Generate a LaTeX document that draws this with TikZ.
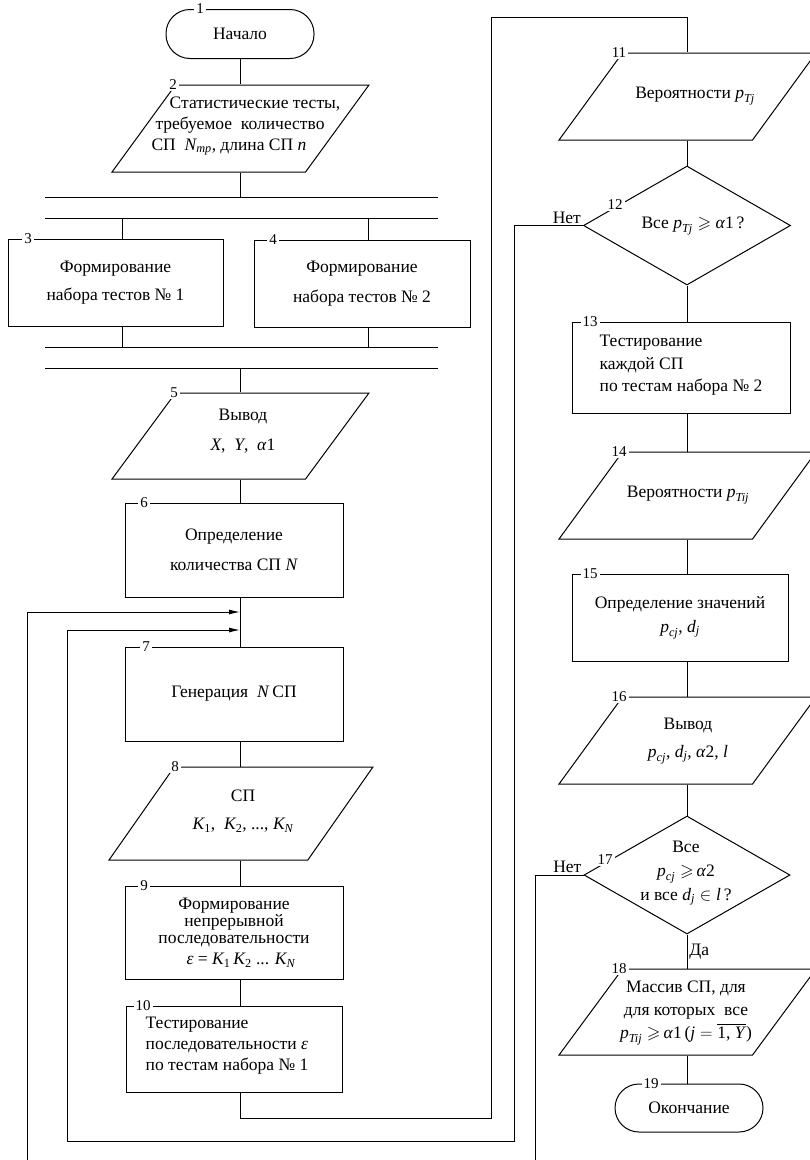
\documentclass[tikz,border=0pt]{standalone}
\usepackage{fontspec}
\setmainfont{Liberation Serif}
\usepackage{amsmath,amssymb}
\usetikzlibrary{arrows.meta,positioning,shapes.geometric,calc}
\newcommand{\vr}[1]{\textit{#1}}

\begin{document}
\begin{tikzpicture}[x=1pt,y=-1pt,
  base/.style={draw,line width=1pt,font=\fontsize{17.5}{22}\selectfont,align=center,inner sep=2pt},
  terminal/.style={base,rectangle,rounded corners=24pt,minimum width=148pt,minimum height=49pt},
  process/.style={base,rectangle,minimum width=218pt,minimum height=88pt},
  io/.style={base,trapezium,trapezium left angle=64,trapezium right angle=116,trapezium stretches=true,minimum width=257pt,minimum height=87pt},
  decision/.style={base,diamond,minimum width=207pt,minimum height=119pt},
  txt/.style={font=\fontsize{17.5}{#1}\selectfont,align=center,inner sep=0pt},
  txt/.default=22,
  num/.style={fill=white,inner xsep=2pt,inner ysep=1pt,font=\fontsize{15}{15}\selectfont},
  lbl/.style={font=\fontsize{17.5}{20}\selectfont,inner sep=2pt},
  line/.style={line width=1pt},
  inarrow/.style={line width=1pt,-{Latex[length=11pt,width=5pt]}}]
  \useasboundingbox (0,0) rectangle (810,1160);
  \clip (0,0) rectangle (810,1160);

  % axes of the two columns
  \coordinate (axA) at (240,0);
  \coordinate (axB) at (687,0);

  % left column
  \node[terminal] (t1) at (240,34) {Начало};
  \node[io] (p2) at (240.5,128.5) {};
  \node[txt=21] (p2t) at (240,126) {\hspace*{30pt}Статистические тесты,\\требуемое\ \ количество\\СП\ \ $\vr{N}_{\vr{mp}}$, длина СП \vr{n}\hspace*{22pt}};

  % parallel branches
  \foreach \y in {197,218,347,368}
    \draw[line] (45,\y) -- (438,\y);
  \coordinate (bar1) at (240,197);
  \coordinate (bar2) at (240,218);
  \coordinate (bar3) at (240,347);
  \coordinate (bar4) at (240,368);
  \node[process,minimum width=215pt,minimum height=87pt] (b3) at (115.5,282.5) {Формирование\\[6pt]набора тестов № 1};
  \node[process,minimum width=216pt,minimum height=87pt] (b4) at (362,283.5) {Формирование\\[8pt]набора тестов № 2};

  \node[io,minimum height=86pt] (p5) at (240.5,436) {};
  \node[txt] (p5t) at (243,431) {Вывод\\[8pt]\vr{X},\ \ \vr{Y},\ \ \vr{α}1};
  \node[process,minimum height=94pt] (b6) at (234,550) {Определение\\[8pt]количества СП \vr{N}};
  \node[process,minimum height=94pt] (b7) at (234,694) {Генерация\ \ \vr{N}\,СП};
  \node[io,minimum width=264pt,minimum height=93pt] (p8) at (241,813.5) {};
  \node[txt] (p8t) at (243,811) {СП\\[6pt]$\vr{K}_{\text{1}}$,\ \ $\vr{K}_{\text{2}}$, ..., $\vr{K}_{\vr{N}}$};
  \node[process,minimum height=93pt,font=\fontsize{17.5}{17}\selectfont] (b9) at (234,932.5) {Формирование\\непрерывной\\последовательности\\[4pt]\hspace*{14pt}\vr{ε} = $\vr{K}_{\text{1}}\,\vr{K}_{\text{2}}$ ... $\vr{K}_{\vr{N}}$};
  \node[process,minimum width=216pt,minimum height=86pt] (b10) at (234,1049) {};
  \node[txt=21,align=left,anchor=west] (b10t) at ([xshift=20pt,yshift=3pt]b10.west) {Тестирование\\последовательности \vr{ε}\\по тестам набора № 1};

  % right column
  \node[io] (p11) at (687.5,96.5) {};
  \node[txt] (p11t) at (695,96) {Вероятности $\vr{p}_{\vr{Tj}}$};
  \node[decision] (d12) at (687,225.5) {};
  \node[txt] (d12t) at (693,226) {Все $\vr{p}_{\vr{Tj}}\geqslant$ \vr{α}1\,?};
  \node[process,minimum height=91pt] (b13) at (681,367.5) {};
  \node[txt=22.5,align=left,anchor=west] (b13t) at ([xshift=28pt,yshift=2pt]b13.west) {Тестирование\\каждой СП\\по тестам набора № 2};
  \node[io] (p14) at (687.5,495.5) {};
  \node[txt] (p14t) at (688,495) {Вероятности $\vr{p}_{\vr{Tij}}$};
  \node[process,minimum width=216pt,minimum height=87pt] (b15) at (680,617.5) {Определение значений\\[2pt]$\vr{p}_{\vr{cj}}$, $\vr{d}_{\vr{j}}$};
  \node[io] (p16) at (687.5,740.5) {};
  \node[txt] (p16t) at (688,741) {Вывод\\[6pt]$\vr{p}_{\vr{cj}}$, $\vr{d}_{\vr{j}}$, \vr{α}2, \vr{l}};
  \node[decision,minimum width=206pt,minimum height=118pt] (d17) at (687,875) {};
  \node[txt=24] (d17t) at (686,873) {Все\\$\vr{p}_{\vr{cj}}\geqslant$\,\vr{α}2\\и все $\vr{d}_{\vr{j}}\in\vr{l}$\,?};
  \node[io,minimum height=86pt] (p18) at (687.5,1012) {};
  \node[txt=23] (p18t) at (686,1013) {Массив СП, для\\для которых\ \ все\hspace*{24pt}\\$\vr{p}_{\vr{Tij}}\geqslant$\,\vr{α}1\,($\vr{j}=\overline{\text{1, \vr{Y}}}$)};
  \node[terminal,minimum height=48pt] (t19) at (689,1108) {Окончание};

  % flow lines
  \foreach \src/\dst in {t1/p2,p5/b6,b6/b7,b7/p8,p8/b9,b9/b10}
    \draw[line] (\src.south -| axA) -- (\dst.north -| axA);
  \foreach \src/\dst in {p11/d12,d12/b13,b13/p14,p14/b15,b15/p16,p16/d17,d17/p18,p18/t19}
    \draw[line] (\src.south -| axB) -- (\dst.north -| axB);
  \draw[line] (p2.south -| axA) -- (bar1);
  \draw[line] (bar4) -- (p5.north -| axA);
  \draw[line] ([xshift=6.5pt]b3.north |- bar2) -- ([xshift=6.5pt]b3.north);
  \draw[line] ([xshift=6pt]b4.north |- bar2) -- ([xshift=6pt]b4.north);
  \draw[line] ([xshift=6.5pt]b3.south) -- ([xshift=6.5pt]b3.south |- bar3);
  \draw[line] ([xshift=6pt]b4.south) -- ([xshift=6pt]b4.south |- bar3);

  % returns and exits
  \coordinate (r1) at (491,1118);
  \coordinate (r2) at (491,17);
  \draw[line] (b10.south -| axA) |- (r1) -- (r2) -| (p11.north);
  \coordinate (q1) at (514,1141);
  \coordinate (q2) at (67,1141);
  \coordinate (in1) at (240,612);
  \coordinate (in2) at (240,630);
  \draw[inarrow] (d12.west) -| (q1) -- (q2) |- (in2);
  \coordinate (outL) at (27,1160);
  \coordinate (outR) at (535,1160);
  \draw[inarrow] (outL) |- (in1);
  \draw[line] (d17.west) -| (outR);

  \node[lbl,above left] (no12) at (d12.west) {Нет};
  \node[lbl,above left] (no17) at (d17.west) {Нет};
  \node[lbl,right] (yes17) at ($(d17.south)!0.5!(p18.north)$) {Да};

  % block numbers
  \foreach \nm/\pos in {1/{(200,9)},2/{(173,85)},3/{(28,239)},4/{(273,240)},5/{(174,393)},
      6/{(144,503)},7/{(146,647)},8/{(175,767)},9/{(144,886)},10/{(143,1006)},
      11/{(619,53)},12/{(615,205)},13/{(590,322)},14/{(619,452)},15/{(590,574)},
      16/{(619,697)},17/{(605,860)},18/{(619,969)},19/{(651,1084)}}
    \node[num] (n\nm) at \pos {\nm};
\end{tikzpicture}
\end{document}
